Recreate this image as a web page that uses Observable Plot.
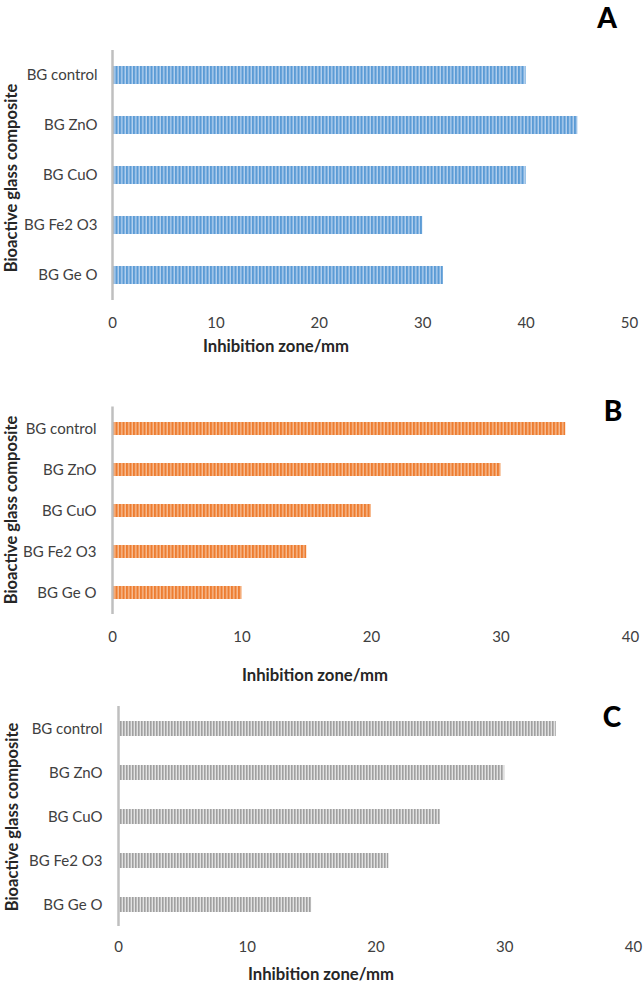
<!DOCTYPE html>
<html>
<head>
<meta charset="utf-8">
<script src="https://cdn.jsdelivr.net/npm/d3@7"></script>
<script src="https://cdn.jsdelivr.net/npm/@observablehq/plot@0.6"></script>
<style>
  html, body { margin: 0; padding: 0; background: #fff; }
  #root { position: relative; width: 643px; height: 983px; overflow: hidden; font-family: Lato, "Open Sans", sans-serif; }
  .panel { position: absolute; left: 0; }
  .xt { position: absolute; font-weight: bold; font-size: 16.7px; line-height: 14px; color: #262626; white-space: nowrap; transform: translateX(-50%); }
  .yt { position: absolute; font-weight: bold; font-size: 16.5px; line-height: 12px; color: #262626; white-space: nowrap; transform: translate(-50%, -50%) rotate(-90deg); }
  .letter { position: absolute; font-weight: 900; font-size: 28px; line-height: 22px; color: #000; transform: translateX(-50%); }
</style>
</head>
<body>
<div id="root"></div>
<script>
const categories = ["BG control", "BG ZnO", "BG CuO", "BG Fe2 O3", "BG Ge O"];
const valuesA = [40, 45, 40, 30, 32];
const valuesB = [35, 30, 20, 15, 10];
const valuesC = [34, 30, 25, 21, 15];
const ticksA = [0, 10, 20, 30, 40, 50];
const ticksBC = [0, 10, 20, 30, 40];
const xTitle = "Inhibition zone/mm";
const yTitle = "Bioactive glass composite";
const panelLetters = ["A", "B", "C"];

const root = document.getElementById("root");

function addPattern(svg, id, base, light, period, lightW) {
  const defs = d3.select(svg).insert("defs", ":first-child");
  const p = defs.append("pattern").attr("id", id).attr("patternUnits", "userSpaceOnUse")
    .attr("width", period).attr("height", 20);
  p.append("rect").attr("width", period).attr("height", 20).attr("fill", base);
  p.append("rect").attr("x", period - lightW).attr("width", lightW).attr("height", 20).attr("fill", light);
}

function panel(cfg) {
  const data = categories.map((c, i) => ({category: c, value: cfg.values[i]}));
  const svg = Plot.plot({
    width: 643,
    height: cfg.height,
    marginTop: cfg.marginTop,
    marginBottom: cfg.marginBottom,
    marginLeft: cfg.marginLeft,
    marginRight: cfg.marginRight,
    style: {fontFamily: "Lato, 'Open Sans', sans-serif", fontSize: "15px", color: "#404040", background: "transparent", overflow: "visible"},
    x: {domain: cfg.domain, ticks: cfg.ticks, axis: null},
    y: {domain: categories, paddingInner: cfg.pad, paddingOuter: cfg.pad / 2, axis: null},
    marks: [
      Plot.barX(data, {x: "value", y: "category", fill: `url(#${cfg.id})`}),
      Plot.ruleX([0], {stroke: "#bfbfbf", strokeWidth: 2.5}),
      Plot.axisX({ticks: cfg.ticks, tickSize: 0, tickPadding: cfg.tpx, label: null, fontSize: 15, fill: "#404040"}),
      Plot.axisY({tickSize: 0, tickPadding: cfg.tpy, label: null, fontSize: 15, fill: "#404040"})
    ]
  });
  addPattern(svg, cfg.id, cfg.base, cfg.light, cfg.period, cfg.lightW);
  svg.classList.add("panel");
  svg.style.top = cfg.top + "px";
  root.appendChild(svg);

  const xt = document.createElement("div");
  xt.className = "xt"; xt.textContent = xTitle;
  xt.style.left = cfg.xtX + "px"; xt.style.top = (cfg.xtBase - 11.5) + "px";
  root.appendChild(xt);

  const yt = document.createElement("div");
  yt.className = "yt"; yt.textContent = yTitle;
  yt.style.left = cfg.ytX + "px"; yt.style.top = cfg.ytY + "px";
  root.appendChild(yt);

  const lt = document.createElement("div");
  lt.className = "letter"; lt.textContent = cfg.letter;
  lt.style.left = cfg.lX + "px"; lt.style.top = (cfg.lBase - 21.8) + "px";
  root.appendChild(lt);
}

panel({id: "patA", values: valuesA, domain: [0, 50], ticks: ticksA, top: 0, height: 365,
  marginTop: 50, marginBottom: 65, marginLeft: 112, marginRight: 14, pad: 0.64, tpx: 17, tpy: 15,
  base: "#5b9bd5", light: "#b4d0ee", period: 3.5, lightW: 1.4,
  xtX: 276, xtBase: 350, ytX: 10.5, ytY: 178, letter: panelLetters[0], lX: 607, lBase: 28});

panel({id: "patB", values: valuesB, domain: [0, 40], ticks: ticksBC, top: 365, height: 320,
  marginTop: 41.5, marginBottom: 71, marginLeft: 112, marginRight: 13, pad: 0.687, tpx: 17, tpy: 16,
  base: "#ed7d31", light: "#f7bd94", period: 3.5, lightW: 1.4,
  xtX: 315, xtBase: 679, ytX: 10.5, ytY: 510, letter: panelLetters[1], lX: 613, lBase: 421});

panel({id: "patC", values: valuesC, domain: [0, 40], ticks: ticksBC, top: 685, height: 298,
  marginTop: 21, marginBottom: 57, marginLeft: 118, marginRight: 10, pad: 0.66, tpx: 15, tpy: 16,
  base: "#a0a0a0", light: "#e2e2e2", period: 3, lightW: 1.4,
  xtX: 321, xtBase: 978.5, ytX: 11.6, ytY: 817, letter: panelLetters[2], lX: 612, lBase: 727});
</script>
</body>
</html>
